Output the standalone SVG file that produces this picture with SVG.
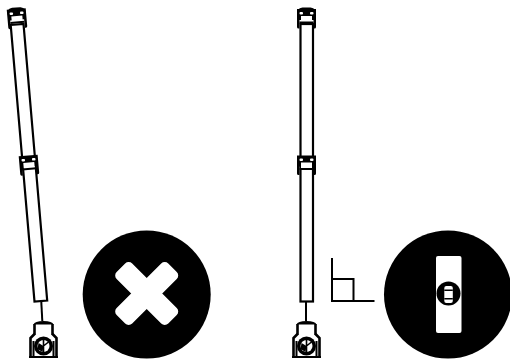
<svg xmlns="http://www.w3.org/2000/svg" width="510" height="360" viewBox="0 0 510 360">
<style>
.l{fill:#fff;stroke:#000;stroke-width:2.200}
.k{fill:#000}
.w{fill:#fff}
.n{fill:none;stroke:#000;stroke-width:2}
.b{fill:none;stroke:#000;stroke-width:2.600}
.t{fill:none;stroke:#000;stroke-width:1.600}
</style>
<defs>
<g id="clampBody">
<path class="k" d="M-9.500,-4 H9.500 V14 Q9.500,15.500 8,15.500 H7 V7 H-7 V15.500 H-8 Q-9.500,15.500 -9.500,14 Z"/>
<rect class="w" x="-5.500" y="3" width="11" height="5.500"/>
<rect class="k" x="-7" y="8.500" width="14" height="2"/>
<rect class="w" x="-7" y="-1" width="3.500" height="2.500" rx="1"/>
<rect class="w" x="3.500" y="-1" width="3.500" height="2.500" rx="1"/>
</g>
<g id="base">
<path class="k" d="M-10,3.500 Q-9,0 0,0 Q9,0 10,3.500 Z"/>
<path class="b" d="M-9,3 V14 M9,3 V14"/>
<path class="b" d="M-9,13 L-13,17 V36 M9,13 L13,17 V36"/>
<path class="n" d="M-10,20 V35 M10,20 V35"/>
<rect class="k" x="-14.500" y="35" width="29" height="2"/>
<circle cx="0" cy="25" r="9.500" class="k"/>
<circle cx="0" cy="25" r="6" class="w"/>
<path class="k" d="M0,25 L-5,22 L-6,28 L-1,31 Z"/>
<path class="t" d="M0,19 V31 M0,25 L5,21"/>
</g>
</defs>
<g id="connectors">
<path id="post-left" class="n" d="M41.300,302 L42.300,321"/>
<path id="post-right" class="n" d="M306,302 V321"/>
</g>
<g id="pole-left">
<polygon class="l" points="10.700,25 23.500,24 47.200,300.500 34.500,301.500"/>
</g>
<g id="clamp-left-top" transform="translate(16.500,12.500) rotate(-5)">
<path class="k" d="M-9,-2 Q-7,-5 -4,-5 H4 Q7,-5 9,-2 V2 H-9 Z"/>
<use href="#clampBody" y="0.500"/>
</g>
<g id="clamp-left-mid" transform="translate(28.500,159.500) rotate(-5)">
<use href="#clampBody" y="0"/>
</g>
<g id="base-left" transform="translate(43.500,321)">
<use href="#base"/>
</g>
<g id="pole-right">
<rect class="l" x="300.500" y="24" width="12.500" height="277.500"/>
</g>
<g id="clamp-right-top" transform="translate(306.500,12.500)">
<path class="k" d="M-9,-2 Q-7,-5 -4,-5 H4 Q7,-5 9,-2 V2 H-9 Z"/>
<use href="#clampBody" y="0.500"/>
</g>
<g id="clamp-right-mid" transform="translate(306.500,159.500)">
<use href="#clampBody" y="0"/>
</g>
<g id="base-right" transform="translate(306.500,321)">
<use href="#base"/>
</g>
<g id="right-angle">
<path class="n" d="M332,258 V301 H374.500 M332,279 H353.500 V301"/>
</g>
<g id="badge-cross">
<circle cx="146.700" cy="294.500" r="64" class="k"/>
<g transform="translate(146.700,293.500) rotate(45)">
<rect class="w" x="-36.500" y="-11" width="73" height="22" rx="5"/>
<rect class="w" x="-11" y="-36.500" width="22" height="73" rx="5"/>
</g>
</g>
<g id="badge-level">
<circle cx="448" cy="294.500" r="64" class="k"/>
<rect class="w" x="436" y="256" width="25.500" height="77" rx="2"/>
<circle cx="448.500" cy="293.500" r="12" class="k"/>
<rect class="w" x="444.300" y="286" width="8.500" height="17" rx="2"/>
<rect class="k" x="444.300" y="289.500" width="8.500" height="1.500"/>
<rect class="k" x="444.300" y="298" width="8.500" height="1.500"/>
</g>
</svg>
